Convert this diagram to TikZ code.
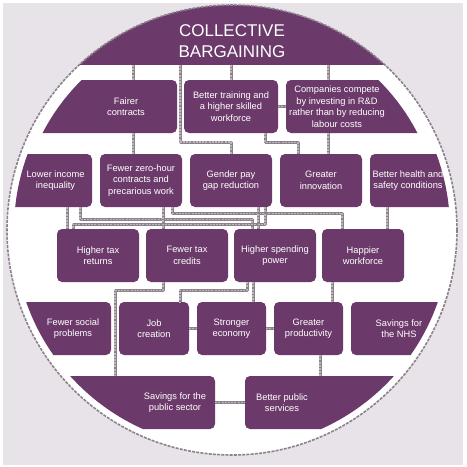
\documentclass[tikz,border=0pt]{standalone}
\usepackage{fontspec}
\setmainfont{Liberation Sans}
\begin{document}
\begin{tikzpicture}[
        x=1pt, y=-1pt, % one unit per pixel, y runs downwards
        line join=round,
        box/.style={fill=boxpurple, rounded corners=5pt, text=white, inner sep=0pt,
            minimum height=53pt, align=center, font=\fontsize{9.3}{11.5}\selectfont},
        boxtext/.style={text=white, inner sep=0pt, align=center, font=\fontsize{9.3}{11.5}\selectfont},
        link/.style={draw=linkgray, line width=3pt,
            postaction={draw=linklight, line width=1.1pt, dash pattern=on 2pt off 1.2pt}},
        rim/.style={draw=linkgray, line width=1.6pt, dash pattern=on 3pt off 1.2pt}
        ]

        % 1. Colours
        \definecolor{boxpurple}{RGB}{108,58,106}
        \definecolor{backgray}{RGB}{231,227,232}
        \definecolor{linkgray}{RGB}{140,130,140}
        \definecolor{linklight}{RGB}{190,184,190}

        \useasboundingbox (0,0) rectangle (467,467);

        % 2. Key coordinates
        \coordinate (centre) at (232,230); % middle of the disc
        \coordinate (cap) at (232,65);     % lower edge of the title cap

        % 3. Background and disc
        \fill[backgray] (3,3) rectangle (463,465);
        \fill[white] (centre) circle (225);

        % Title cap
        \begin{scope}
            \clip (centre) circle (225);
            \fill[boxpurple] (0,0) rectangle (467,65);
        \end{scope}
        \node[boxtext, font=\fontsize{17}{21}\selectfont] (title) at (232,41) {COLLECTIVE\\BARGAINING};

        % 4. First row (cut by a smaller circle)
        \begin{scope}
            \clip (230,230) circle (211);
            \node[box, minimum width=167pt, label={[boxtext, xshift=32.5pt]center:Fairer\\contracts}] (fc) at (93.5,106.5) {};
            \node[box, minimum width=174pt, label={[boxtext, xshift=-36pt]center:Companies compete\\by investing in R\&D\\rather than by reducing\\labour costs}] (cc) at (373,106.5) {};
        \end{scope}
        \node[box, minimum width=94pt] (bt) at (231,106.5) {Better training and\\a higher skilled\\workforce};

        % 5. Other rows (cut by the disc)
        \begin{scope}
            \clip (centre) circle (218);
            % second row
            \node[box, minimum width=92pt, label={[boxtext, xshift=9.5pt]center:Lower income\\inequality}] (lii) at (46,180.5) {};
            \node[box, minimum width=100pt, label={[boxtext, xshift=-12pt]center:Better health and\\safety conditions}] (bh) at (420,180.5) {};
            % fourth row
            \node[box, minimum width=111pt, label={[boxtext, xshift=17.5pt]center:Fewer social\\problems}] (fsp) at (55.5,328.5) {};
            \node[box, minimum width=119pt, label={[boxtext, xshift=-11.5pt]center:Savings for\\the NHS}] (nhs) at (410.5,328.5) {};
            % fifth row
            \node[box, minimum width=215pt, label={[boxtext, xshift=67.5pt]center:Savings for the\\public sector}] (sps) at (107.5,402.5) {};
            \node[box, minimum width=225pt, label={[boxtext, xshift=-75.5pt]center:Better public\\services}] (bps) at (357.5,402.5) {};
        \end{scope}

        \node[box, minimum width=82pt] (fzh) at (141,180.5) {Fewer zero-hour\\contracts and\\precarious work};
        \node[box, minimum width=82pt] (gpg) at (231,180.5) {Gender pay\\gap reduction};
        \node[box, minimum width=82pt] (gi) at (321,180.5) {Greater\\innovation};

        % third row
        \node[box, minimum width=82pt] (htr) at (98,255.5) {Higher tax\\returns};
        \node[box, minimum width=82pt] (ftc) at (187,255.5) {Fewer tax\\credits};
        \node[box, minimum width=82pt] (hsp) at (275,255.5) {Higher spending\\power};
        \node[box, minimum width=82pt] (hw) at (363,255.5) {Happier\\workforce};

        % fourth row, middle
        \node[box, minimum width=70pt] (jc) at (154,328.5) {Job\\creation};
        \node[box, minimum width=69pt] (se) at (231.5,328.5) {Stronger\\economy};
        \node[box, minimum width=69pt] (gp) at (308.5,328.5) {Greater\\productivity};

        % 6. Links
        % from the title cap
        \draw[link] ([xshift=-99pt]cap) -- ([xshift=39.5pt]fc.north);
        \draw[link] ([xshift=-52pt]cap) -- ++(0,77) -| (gpg.north);
        \draw[link] (cap -| bt.north) -- (bt.north);
        \draw[link] ([xshift=96pt]cap) -- ([xshift=-45pt]cc.north);
        % first row
        \draw[link] (bt.east) -- (cc.west);
        \draw[link] ([xshift=39.5pt]fc.south) -- ([xshift=-8pt]fzh.north);
        \draw[link] ([xshift=34pt]bt.south) -- ++(0,9) -| ([xshift=-23pt]gi.north);
        \draw[link] ([xshift=-45pt]cc.south) -- ([xshift=7pt]gi.north);
        % second row
        \draw[link] ([xshift=21pt]lii.south) -- ([xshift=-31pt]htr.north);
        \draw[link] ([xshift=34pt]lii.south) -- ++(0,12) -| ([xshift=-23pt]hsp.north);
        \draw[link] ([xshift=22pt]fzh.south) -- ([xshift=-24pt]ftc.north);
        \draw[link] ([xshift=31pt]fzh.south) -- ++(0,6) -| ([xshift=-21pt]hw.north);
        \draw[link] ([xshift=27pt]gpg.south) -- ([xshift=-17pt]hsp.north);
        \draw[link] ([xshift=34pt]gpg.south) -- ++(0,17) -| ([xshift=-25pt]htr.north);
        \draw[link] ([xshift=-33pt]bh.south) -- ([xshift=24pt]hw.north);
        % third row
        \draw[link] ([xshift=-24pt]ftc.south) -- ++(0,8) -| ([xshift=7.5pt]sps.north);
        \draw[link] ([xshift=-28pt]hsp.south) -- ++(0,8) -| ([xshift=26pt]jc.north);
        \draw[link] ([xshift=-22pt]hsp.south) -- ([xshift=21.5pt]se.north);
        \draw[link] ([xshift=-31pt]hw.south) -- ([xshift=23.5pt]gp.north);
        % fourth and fifth rows
        \draw[link] (jc.east) -- (se.west);
        \draw[link] (se.east) -- (gp.west);
        \draw[link] ([xshift=11.5pt]gp.south) -- ([xshift=-37.5pt]bps.north);
        \draw[link] (sps.east) -- (bps.west);

        % 7. Rim of the disc
        \draw[rim] (centre) circle (225);
    \end{tikzpicture}
\end{document}
